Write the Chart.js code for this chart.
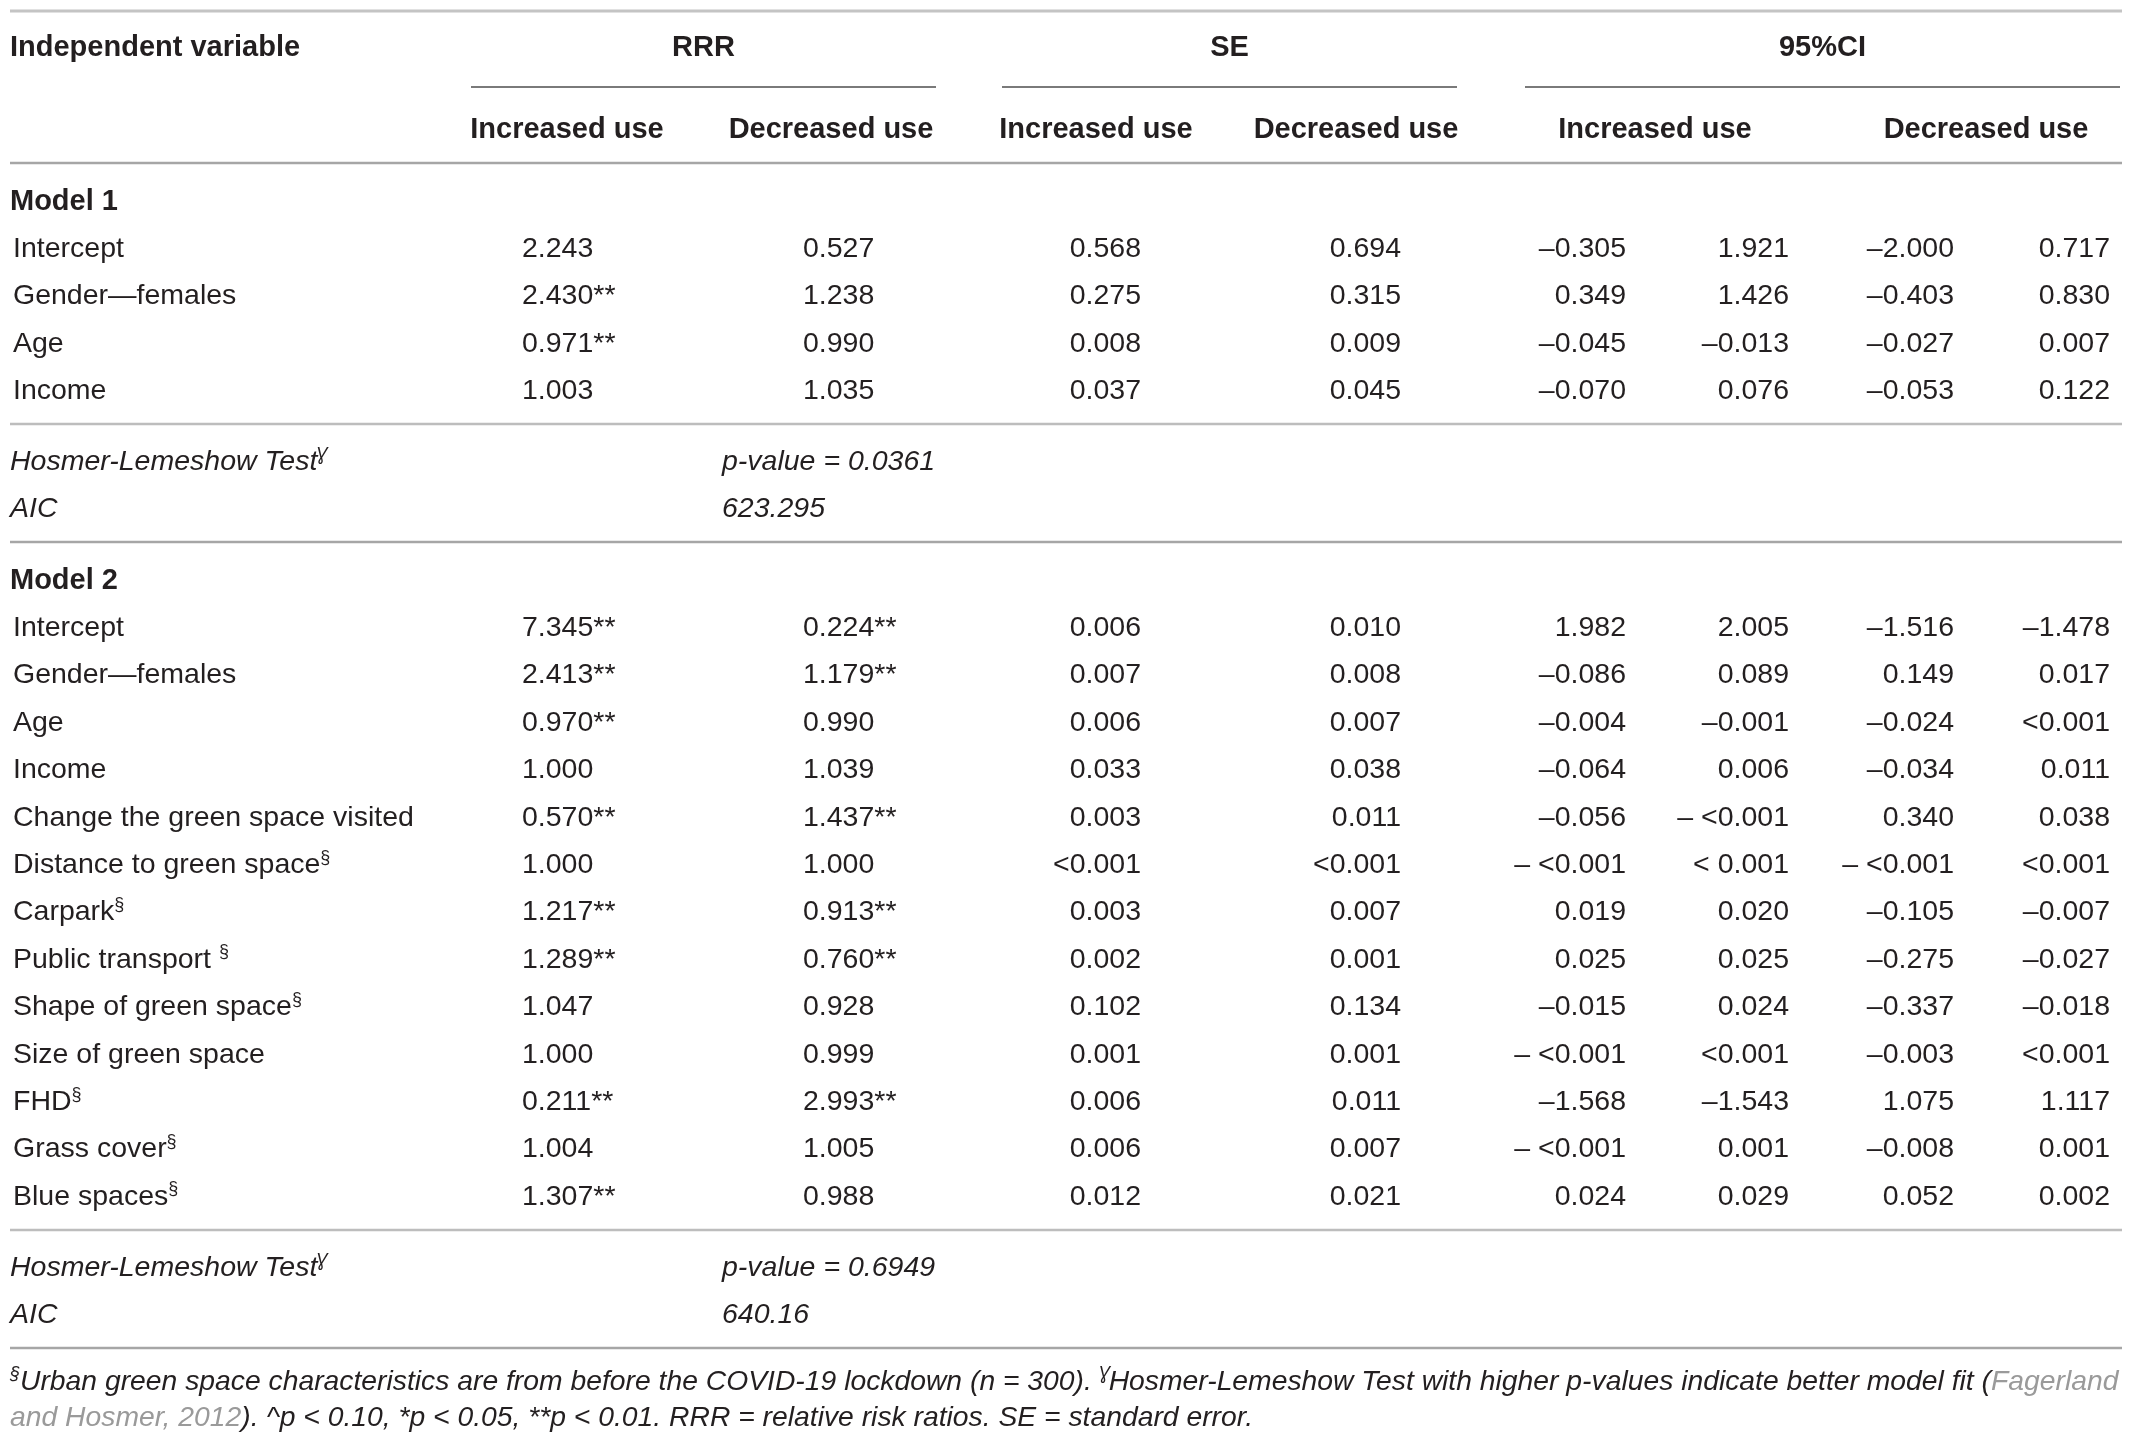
<!DOCTYPE html>
<html>
<head>
<meta charset="utf-8">
<script src="https://cdn.jsdelivr.net/npm/chart.js@4"></script>
<style>
  html, body { margin: 0; padding: 0; background: #fff; }
  #table { display: block; }
</style>
</head>
<body>
<canvas id="table" width="2132" height="1443"></canvas>
<script>
// headings
const groupHeads = ["RRR", "SE", "95%CI"];
const subHeads = ["Increased use", "Decreased use", "Increased use", "Decreased use", "Increased use", "Decreased use"];
const firstHead = "Independent variable";
const modelNames = ["Model 1", "Model 2"];
const fitLabels = ["Hosmer-Lemeshow Test[Ɣ]", "AIC"];

// Model 1
const m1Vars = ["Intercept", "Gender—females", "Age", "Income"];
const m1RrrInc = ["2.243", "2.430**", "0.971**", "1.003"];
const m1RrrDec = ["0.527", "1.238", "0.990", "1.035"];
const m1SeInc = ["0.568", "0.275", "0.008", "0.037"];
const m1SeDec = ["0.694", "0.315", "0.009", "0.045"];
const m1CiIncLo = ["–0.305", "0.349", "–0.045", "–0.070"];
const m1CiIncHi = ["1.921", "1.426", "–0.013", "0.076"];
const m1CiDecLo = ["–2.000", "–0.403", "–0.027", "–0.053"];
const m1CiDecHi = ["0.717", "0.830", "0.007", "0.122"];
const m1Fit = ["p-value = 0.0361", "623.295"];

// Model 2
const m2Vars = ["Intercept", "Gender—females", "Age", "Income", "Change the green space visited",
  "Distance to green space[§]", "Carpark[§]", "Public transport [§]", "Shape of green space[§]",
  "Size of green space", "FHD[§]", "Grass cover[§]", "Blue spaces[§]"];
const m2RrrInc = ["7.345**", "2.413**", "0.970**", "1.000", "0.570**", "1.000", "1.217**", "1.289**", "1.047", "1.000", "0.211**", "1.004", "1.307**"];
const m2RrrDec = ["0.224**", "1.179**", "0.990", "1.039", "1.437**", "1.000", "0.913**", "0.760**", "0.928", "0.999", "2.993**", "1.005", "0.988"];
const m2SeInc = ["0.006", "0.007", "0.006", "0.033", "0.003", "<0.001", "0.003", "0.002", "0.102", "0.001", "0.006", "0.006", "0.012"];
const m2SeDec = ["0.010", "0.008", "0.007", "0.038", "0.011", "<0.001", "0.007", "0.001", "0.134", "0.001", "0.011", "0.007", "0.021"];
const m2CiIncLo = ["1.982", "–0.086", "–0.004", "–0.064", "–0.056", "– <0.001", "0.019", "0.025", "–0.015", "– <0.001", "–1.568", "– <0.001", "0.024"];
const m2CiIncHi = ["2.005", "0.089", "–0.001", "0.006", "– <0.001", "< 0.001", "0.020", "0.025", "0.024", "<0.001", "–1.543", "0.001", "0.029"];
const m2CiDecLo = ["–1.516", "0.149", "–0.024", "–0.034", "0.340", "– <0.001", "–0.105", "–0.275", "–0.337", "–0.003", "1.075", "–0.008", "0.052"];
const m2CiDecHi = ["–1.478", "0.017", "<0.001", "0.011", "0.038", "<0.001", "–0.007", "–0.027", "–0.018", "<0.001", "1.117", "0.001", "0.002"];
const m2Fit = ["p-value = 0.6949", "640.16"];

// footnote ([..] = superscript, {..} = grey link)
const footLines = [
  "[§]Urban green space characteristics are from before the COVID-19 lockdown (n = 300). [Ɣ]Hosmer-Lemeshow Test with higher p-values indicate better model fit ({Fagerland}",
  "{and Hosmer, 2012}). ^p < 0.10, *p < 0.05, **p < 0.01. RRR = relative risk ratios. SE = standard error."
];

// ---- layout ----
const W = 2132, H = 1443, ROW = 47.4;
const FAMILY = '"Liberation Sans", Arial, Helvetica, sans-serif';
const INK = "#231f20";
const GREY = "#9a9a9a";
const BODY = 28.5, HEAD = 29, FOOT = 28.3;

const colX = { label: 13, bold: 10, rrrInc: 522, rrrDec: 803, seInc: 1141, seDec: 1401,
  ciIncLo: 1626, ciIncHi: 1789, ciDecLo: 1954, ciDecHi: 2110, fit: 722 };
const groupSpan = [[471, 936], [1002, 1457], [1525, 2120]];
const subCenter = [567, 831, 1096, 1356, 1655, 1986];

// row positions (in row units) walked down the table
let cur = 0.23;
const yTopRule = cur;
const yHead1 = cur + 0.74;
const yGroupRule = 1.84;
const yHead2 = 2.70;
const yHeadRule = 3.44;
cur = yHeadRule;
const block = (n) => {
  const title = cur + 0.76;
  const rows = [];
  for (let i = 0; i < n; i++) rows.push(title + 1 + i);
  const ruleA = rows[rows.length - 1] + 0.74;
  const fit = [ruleA + 0.76, ruleA + 1.76];
  const ruleB = fit[1] + 0.74;
  cur = ruleB;
  return { title, rows, ruleA, fit, ruleB };
};
const b1 = block(m1Vars.length);
const b2 = block(m2Vars.length);
const footY = [b2.ruleB + 0.66, b2.ruleB + 1.42];

const datasets = [];
const addCol = (texts, x, ys, style) => {
  datasets.push({
    data: texts.map((t, i) => ({ x: Array.isArray(x) ? x[i] : x, y: ys[i], t })),
    cellStyle: style,
    pointRadius: 0,
    pointHoverRadius: 0,
  });
};

const num = { size: BODY, align: "right" };
const rrr = { size: BODY, align: "left" };
// headings
addCol([firstHead], colX.bold, [yHead1], { size: HEAD, bold: true, align: "left" });
addCol(groupHeads, groupSpan.map((s) => (s[0] + s[1]) / 2), [yHead1, yHead1, yHead1], { size: HEAD, bold: true, align: "center" });
addCol(subHeads, subCenter, subCenter.map(() => yHead2), { size: HEAD, bold: true, align: "center" });
// model titles
addCol(modelNames, colX.bold, [b1.title, b2.title], { size: HEAD, bold: true, align: "left" });
// model blocks
[[b1, m1Vars, m1RrrInc, m1RrrDec, m1SeInc, m1SeDec, m1CiIncLo, m1CiIncHi, m1CiDecLo, m1CiDecHi, m1Fit],
 [b2, m2Vars, m2RrrInc, m2RrrDec, m2SeInc, m2SeDec, m2CiIncLo, m2CiIncHi, m2CiDecLo, m2CiDecHi, m2Fit]]
  .forEach(([b, vars, ri, rd, si, sd, cil, cih, cdl, cdh, fit]) => {
    addCol(vars, colX.label, b.rows, { size: BODY, align: "left" });
    addCol(ri, colX.rrrInc, b.rows, rrr);
    addCol(rd, colX.rrrDec, b.rows, rrr);
    addCol(si, colX.seInc, b.rows, num);
    addCol(sd, colX.seDec, b.rows, num);
    addCol(cil, colX.ciIncLo, b.rows, num);
    addCol(cih, colX.ciIncHi, b.rows, num);
    addCol(cdl, colX.ciDecLo, b.rows, num);
    addCol(cdh, colX.ciDecHi, b.rows, num);
    addCol(fitLabels, colX.bold, b.fit, { size: BODY, italic: true, align: "left" });
    addCol(fit, colX.fit, b.fit, { size: BODY, italic: true, align: "left" });
  });
addCol(footLines, colX.bold, footY, { size: FOOT, italic: true, align: "left" });

const rules = [
  { y: yTopRule, x0: 10, x1: 2122, color: "#c4c4c4", w: 3 },
  ...groupSpan.map((s) => ({ y: yGroupRule, x0: s[0], x1: s[1], color: "#7a7a7a", w: 2 })),
  { y: yHeadRule, x0: 10, x1: 2122, color: "#a6a6a6", w: 2.5 },
  { y: b1.ruleA, x0: 10, x1: 2122, color: "#bdbdbd", w: 2.5 },
  { y: b1.ruleB, x0: 10, x1: 2122, color: "#a6a6a6", w: 2.5 },
  { y: b2.ruleA, x0: 10, x1: 2122, color: "#bdbdbd", w: 2.5 },
  { y: b2.ruleB, x0: 10, x1: 2122, color: "#a6a6a6", w: 2.5 },
];

// ---- rich text ----
const parseRich = (str) => {
  const segs = [];
  let sup = false, grey = false, buf = "";
  const push = () => { if (buf) segs.push({ t: buf, sup, grey }); buf = ""; };
  for (const ch of str) {
    if (ch === "[") { push(); sup = true; }
    else if (ch === "]") { push(); sup = false; }
    else if (ch === "{") { push(); grey = true; }
    else if (ch === "}") { push(); grey = false; }
    else buf += ch;
  }
  push();
  return segs;
};

const fontFor = (st, size) =>
  (st.italic ? "italic " : "") + (st.bold ? "bold " : "") + size + "px " + FAMILY;

const drawRich = (ctx, str, x, y, st) => {
  const segs = parseRich(str);
  const supSize = Math.round(st.size * 0.62);
  let total = 0;
  segs.forEach((s) => {
    ctx.font = fontFor(st, s.sup ? supSize : st.size);
    s.w = ctx.measureText(s.t).width;
    total += s.w;
  });
  let px = x;
  if (st.align === "right") px = x - total;
  else if (st.align === "center") px = x - total / 2;
  const base = y + st.size * 0.36;
  segs.forEach((s) => {
    ctx.font = fontFor(st, s.sup ? supSize : st.size);
    ctx.fillStyle = s.grey ? GREY : INK;
    ctx.fillText(s.t, px, s.sup ? base - st.size * 0.36 : base);
    px += s.w;
  });
};

const tablePlugin = {
  id: "tableCells",
  beforeDatasetsDraw(chart) {
    const { ctx, scales } = chart;
    ctx.save();
    for (const r of rules) {
      const yy = Math.round(scales.y.getPixelForValue(r.y));
      ctx.strokeStyle = r.color;
      ctx.lineWidth = r.w;
      ctx.beginPath();
      ctx.moveTo(scales.x.getPixelForValue(r.x0), yy);
      ctx.lineTo(scales.x.getPixelForValue(r.x1), yy);
      ctx.stroke();
    }
    ctx.restore();
  },
  afterDatasetsDraw(chart) {
    const ctx = chart.ctx;
    ctx.save();
    ctx.textBaseline = "alphabetic";
    ctx.textAlign = "left";
    chart.data.datasets.forEach((ds, i) => {
      const meta = chart.getDatasetMeta(i);
      meta.data.forEach((pt, j) => {
        drawRich(ctx, ds.data[j].t, pt.x, pt.y, ds.cellStyle);
      });
    });
    ctx.restore();
  },
};

new Chart(document.getElementById("table"), {
  type: "scatter",
  data: { datasets },
  options: {
    responsive: false,
    devicePixelRatio: 1,
    animation: false,
    layout: { padding: 0 },
    events: [],
    plugins: { legend: { display: false }, tooltip: { enabled: false } },
    scales: {
      x: { type: "linear", min: 0, max: W, display: false },
      y: { type: "linear", min: 0, max: H / ROW, reverse: true, display: false },
    },
  },
  plugins: [tablePlugin],
});
</script>
</body>
</html>
